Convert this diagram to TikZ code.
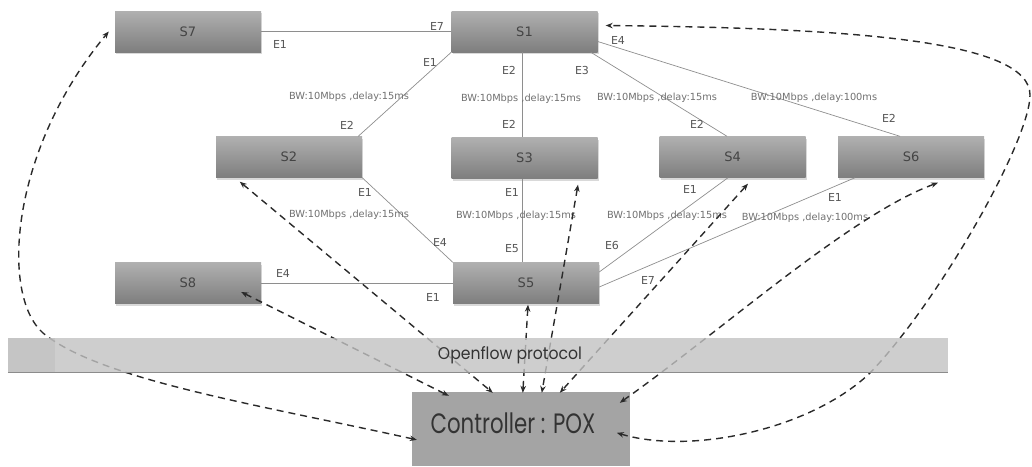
\documentclass[tikz,border=0pt]{standalone}
\usepackage{fontspec}
\setmainfont{DejaVu Sans}
\newfontfamily\gothic{Poppins}
\usetikzlibrary{arrows.meta,shadows,calc}
\definecolor{swtop}{HTML}{B0B0B0}
\definecolor{swbot}{HTML}{7E7E7E}
\definecolor{swtext}{HTML}{444444}
\definecolor{linkc}{HTML}{8E8E8E}
\definecolor{labc}{HTML}{555555}
\definecolor{bwc}{HTML}{707070}
\definecolor{barc}{HTML}{C2C2C2}
\definecolor{barl}{HTML}{B8B8B8}
\definecolor{ctrlc}{HTML}{A4A4A4}
\definecolor{ctlc}{HTML}{2A2A2A}
\definecolor{bigtext}{HTML}{333333}
\begin{document}
\begin{tikzpicture}[x=1pt,y=-1pt,
  switchbox/.style={rectangle, minimum width=146pt, minimum height=41pt, inner sep=0pt,
    top color=swtop, bottom color=swbot,
    drop shadow={opacity=0.3, shadow xshift=1pt, shadow yshift=-2pt},
    font=\fontsize{13}{15}\selectfont, text=swtext},
  link/.style={draw=linkc, line width=0.7pt},
  port/.style={font=\fontsize{11}{12}\selectfont, text=labc, inner sep=0pt},
  bw/.style={font=\fontsize{9.8}{11}\selectfont, text=bwc, inner sep=0pt},
  ctl/.style={draw=ctlc, line width=1.4pt, dash pattern=on 7pt off 5pt,
    {Stealth[length=7pt,width=5.5pt]}-{Stealth[length=7pt,width=5.5pt]}}
]
\useasboundingbox (0,0) rectangle (1032,466);

% switches
\node[switchbox] (S7) at (188,31.5) {S7};
\node[switchbox] (S1) at (524.5,31.5) {S1};
\node[switchbox] (S2) at (289,157) {S2};
\node[switchbox] (S3) at (524.5,158) {S3};
\node[switchbox] (S4) at (732.5,157) {S4};
\node[switchbox] (S6) at (911,157) {S6};
\node[switchbox] (S8) at (188,283) {S8};
\node[switchbox] (S5) at (526,283) {S5};

% controller
\node[rectangle, fill=ctrlc, minimum width=218pt, minimum height=74pt, inner sep=0pt] (ctrl) at (521,429) {};

% links
\draw[link] (S7.east) -- (S1.west);
\draw[link] (S1.south west) -- ($(S2.north east)+(-4,0)$);
\draw[link] ($(S1.south)+(-2.5,0)$) -- ($(S3.north)+(-2.5,0)$);
\draw[link] ($(S1.south east)+(-7,0)$) -- ($(S4.north)+(-5.5,0)$);
\draw[link] ($(S1.east)+(0,10)$) -- ($(S6.north)+(-11,0)$);
\draw[link] (S2.south east) -- (S5.north west);
\draw[link] ($(S3.south)+(-2.5,0)$) -- ($(S5.north)+(-4,0)$);
\draw[link] ($(S4.south)+(-4.5,0)$) -- ($(S5.east)+(0,-11)$);
\draw[link] ($(S6.south)+(-56,0)$) -- ($(S5.east)+(0,4)$);
\draw[link] (S8.east) -- (S5.west);

% port labels
\node[port] (p71) at (280,44) {E1};
\node[port] (p17) at (437,26) {E7};
\node[port] (p11) at (430,62) {E1};
\node[port] (p22) at (347,125) {E2};
\node[bw]   (b12) at (349,97) {BW:10Mbps ,delay:15ms};
\node[port] (p12) at (509,70) {E2};
\node[bw]   (b13) at (521,99) {BW:10Mbps ,delay:15ms};
\node[port] (p32) at (509,124) {E2};
\node[port] (p13) at (582,70) {E3};
\node[port] (p42) at (697,124) {E2};
\node[bw]   (b14) at (657,98) {BW:10Mbps ,delay:15ms};
\node[port] (p14) at (618,40) {E4};
\node[port] (p62) at (889,118) {E2};
\node[bw]   (b16) at (814,98) {BW:10Mbps ,delay:100ms};
\node[port] (p21) at (365,192) {E1};
\node[port] (p54) at (440,242) {E4};
\node[bw]   (b25) at (349,215) {BW:10Mbps ,delay:15ms};
\node[port] (p31) at (512,192) {E1};
\node[bw]   (b35) at (516,216) {BW:10Mbps ,delay:15ms};
\node[port] (p55) at (512,249) {E5};
\node[port] (p41) at (690,189) {E1};
\node[port] (p56) at (612,245) {E6};
\node[bw]   (b45) at (667,216) {BW:10Mbps ,delay:15ms};
\node[port] (p61) at (835,197) {E1};
\node[port] (p57) at (648,280) {E7};
\node[bw]   (b65) at (805,218) {BW:10Mbps ,delay:100ms};
\node[port] (p84) at (283,273) {E4};
\node[port] (p51) at (433,297) {E1};

% control connections
\draw[ctl] ($(S8.east)+(-20,9)$) -- ($(ctrl.north west)+(37,4)$);
\draw[ctl] ($(S2.south west)+(24,4)$) -- ($(ctrl.north west)+(81,1)$);
\draw[ctl] ($(S5.south)+(2,1)$) -- ($(ctrl.north west)+(111,1)$);
\draw[ctl] ($(S3.south)+(53.5,6)$) -- ($(ctrl.north west)+(130,1)$);
\draw[ctl] ($(S4.south)+(15.5,6)$) -- ($(ctrl.north west)+(148,1)$);
\draw[ctl] ($(ctrl.north west)+(208,11)$) .. controls (720,332) and (850,215) .. ($(S6.south)+(27,5)$);
\draw[ctl] ($(ctrl.north west)+(205,41)$) .. controls (690,455) and (810,430) .. (870,373)
   .. controls (940,300) and (1030,140) .. (1030,95)
   .. controls (1030,40) and (850,28) .. ($(S1.east)+(8,-6)$);
\draw[ctl] ($(ctrl.north west)+(5,48)$) .. controls (260,405) and (100,380) .. (43,333)
   .. controls (0,295) and (10,150) .. ($(S7.west)+(-6,0)$);

% openflow bar
\node[rectangle, fill=barc, fill opacity=0.8, minimum width=940pt, minimum height=34pt, inner sep=0pt] (bar) at (478,355) {};
\fill[barl, fill opacity=0.4] (bar.north west) rectangle ($(bar.south west)+(47,0)$);
\draw[draw=gray!90, line width=1pt] (bar.south west) -- (bar.south east);
\node[font=\gothic\fontsize{17}{20}\selectfont, text=bigtext, inner sep=0pt] (bartext) at (510,355) {\scalebox{0.92}[1]{Openflow protocol}};

% controller text
\node[font=\gothic\fontsize{28}{32}\selectfont, text=bigtext, inner sep=0pt] (ctrltext) at (513,423) {\scalebox{0.76}[1]{Controller : POX}};
\end{tikzpicture}
\end{document}
